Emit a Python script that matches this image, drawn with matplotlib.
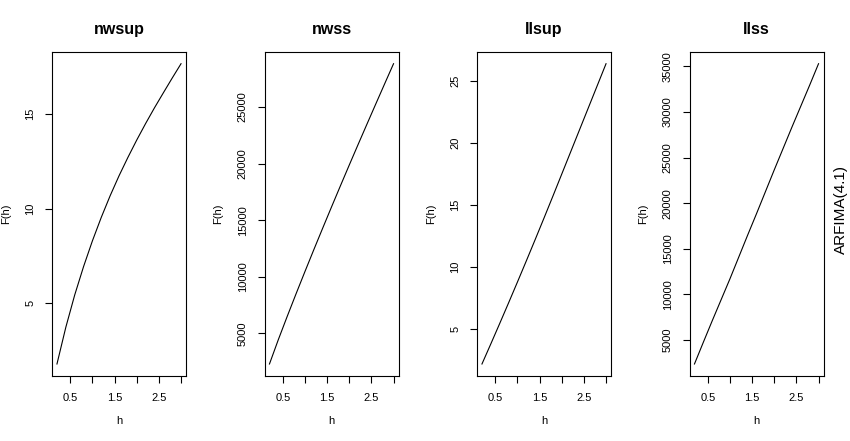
import numpy as np
import matplotlib
matplotlib.use("Agg")
import matplotlib.pyplot as plt

plt.rcParams['font.family'] = ['Liberation Sans', 'DejaVu Sans']

# scale values h
h = [0.2, 0.4, 0.6, 0.8, 1.0, 1.2, 1.4, 1.6, 1.8, 2.0, 2.2, 2.4, 2.6, 2.8, 3.0]

# F(h) per panel
nwsup = [1.8, 3.74, 5.44, 6.94, 8.30, 9.54, 10.68, 11.73, 12.70, 13.62, 14.49, 15.32, 16.11, 16.89, 17.65]
nwss = [2290, 4440, 6490, 8490, 10450, 12380, 14280, 16160, 18020, 19860, 21680, 23480, 25270, 27050, 28820]
llsup = [2.2, 3.82, 5.46, 7.12, 8.8, 10.5, 12.22, 13.96, 15.72, 17.5, 19.28, 21.06, 22.84, 24.62, 26.4]
llss = [2370, 4750, 7100, 9400, 11700, 14100, 16500, 18850, 21250, 23650, 26000, 28350, 30650, 32950, 35300]

titles = ["nwsup", "nwss", "llsup", "llss"]
series = [nwsup, nwss, llsup, llss]
y_ticks = [
    [5, 10, 15],
    [5000, 10000, 15000, 20000, 25000],
    [5, 10, 15, 20, 25],
    [5000, 10000, 15000, 20000, 25000, 30000, 35000],
]
x_ticks = [0.5, 1.0, 1.5, 2.0, 2.5, 3.0]
x_tick_labels = ["0.5", "", "1.5", "", "2.5", ""]
side_label = "ARFIMA(4.1)"

W, H = 850, 441
fig = plt.figure(figsize=(W / 100, H / 100), dpi=100)

# R style padding of 4% on both axes
def padded(lo, hi):
    d = (hi - lo) * 0.04
    return lo - d, hi + d

ax_w, ax_h = 134, 324.3
bottom = 65
axes = []
for i, (title, vals) in enumerate(zip(titles, series)):
    left = 52 + 212.5 * i
    ax = fig.add_axes([left / W, bottom / H, ax_w / W, ax_h / H])
    ax.plot(h, vals, color="black", linewidth=0.8)
    ax.set_xlim(*padded(min(h), max(h)))
    ax.set_ylim(*padded(min(vals), max(vals)))
    ax.set_xticks(x_ticks)
    ax.set_xticklabels(x_tick_labels)
    ax.set_yticks(y_ticks[i])
    ax.set_yticklabels([str(t) for t in y_ticks[i]], rotation=90, va="center")
    ax.tick_params(length=5, width=0.8, labelsize=8, pad=7, color="black")
    for s in ax.spines.values():
        s.set_linewidth(0.8)
    ax.text(0.5, 1.0546, title, transform=ax.transAxes, ha="center",
            va="baseline", fontsize=11.5, fontweight="bold")
    ax.text(0.5, -0.139, "h", transform=ax.transAxes, ha="center",
            va="center", fontsize=8)
    ax.text(-0.343, 0.5, "F(h)", transform=ax.transAxes, ha="center",
            va="center", rotation=90, fontsize=8)
    axes.append(ax)

fig.text(841 / W, 1 - 210 / H, side_label, rotation=90, ha="center",
         va="center", fontsize=11)

fig.savefig("out.png", dpi=100)
